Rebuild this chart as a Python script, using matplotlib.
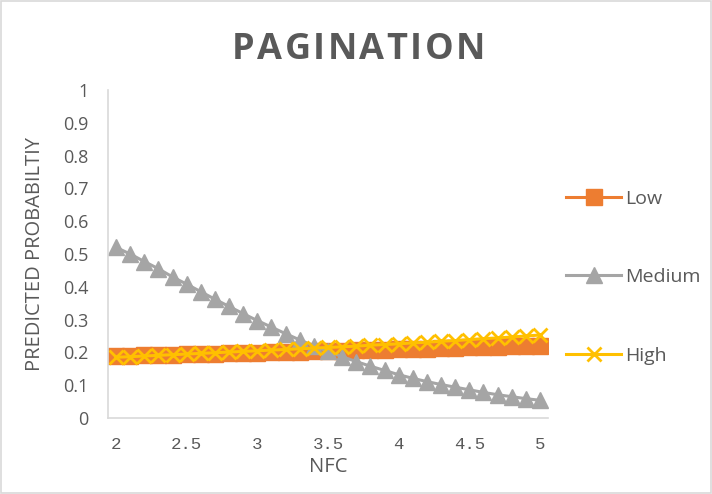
import numpy as np
import matplotlib.pyplot as plt
from matplotlib.patches import Rectangle

# NFC from 2 to 5 in steps of 0.1
nfc = np.round(np.arange(20, 51) / 10, 1)

low = [0.189, 0.190, 0.191, 0.192, 0.193, 0.194, 0.195, 0.196, 0.197, 0.198,
       0.199, 0.200, 0.201, 0.202, 0.203, 0.204, 0.205, 0.206, 0.207, 0.208,
       0.209, 0.210, 0.211, 0.213, 0.214, 0.215, 0.216, 0.217, 0.219, 0.220,
       0.221]
medium = [0.520, 0.500, 0.477, 0.455, 0.430, 0.408, 0.385, 0.362, 0.340, 0.318,
          0.297, 0.277, 0.257, 0.238, 0.220, 0.203, 0.187, 0.172, 0.158, 0.145,
          0.132, 0.121, 0.111, 0.102, 0.094, 0.086, 0.078, 0.071, 0.065, 0.059,
          0.054]
high = [0.185, 0.187, 0.189, 0.191, 0.193, 0.195, 0.197, 0.199, 0.201, 0.203,
        0.205, 0.207, 0.209, 0.211, 0.213, 0.215, 0.217, 0.219, 0.222, 0.224,
        0.226, 0.229, 0.231, 0.234, 0.236, 0.239, 0.242, 0.244, 0.247, 0.250,
        0.253]

xticks = [2, 2.5, 3, 3.5, 4, 4.5, 5]
xticklabels = ["2", "2.5", "3", "3.5", "4", "4.5", "5"]
yticks = np.round(np.arange(0, 11) / 10, 1)
yticklabels = ["0", "0.1", "0.2", "0.3", "0.4", "0.5", "0.6", "0.7", "0.8", "0.9", "1"]

txt = "#595959"
axc = "#D9D9D9"
plt.rcParams['font.family'] = ['Open Sans', 'DejaVu Sans']

fig = plt.figure(figsize=(7.12, 4.94), dpi=100)
ax = fig.add_axes([108/712, 1 - 418/494, 440/712, 328/494])

ax.plot(nfc, low, color="#ED7D31", lw=2.2, marker="s", ms=12, label="Low")
ax.plot(nfc, medium, color="#A5A5A5", lw=2.2, marker="^", ms=11, label="Medium")
ax.plot(nfc, high, color="#FFC000", lw=2.2, marker="x", ms=10, mew=2, label="High")

ax.set_xlim(1.943, 5.057)
ax.set_ylim(0, 1)
ax.set_xticks(xticks)
ax.set_xticklabels(xticklabels, family="Liberation Mono", fontsize=12.5, color=txt)
ax.set_yticks(yticks)
ax.set_yticklabels(yticklabels, fontsize=13, color=txt)
ax.tick_params(axis="x", length=0, pad=14)
ax.tick_params(axis="y", length=0, pad=14)

for side in ["top", "right"]:
    ax.spines[side].set_visible(False)
for side in ["left", "bottom"]:
    ax.spines[side].set_color(axc)
    ax.spines[side].set_linewidth(1.2)

fig.text(328/712, 1 - 467/494, "NFC", ha="center", va="center", fontsize=14.5, color=txt)
fig.text(35/712, 1 - 254/494, "PREDICTED PROBABILTIY", ha="center", va="center",
         rotation=90, fontsize=14.5, color=txt)

# title drawn letter by letter for the wide tracking
title = "PAGINATION"
t0 = fig.text(0, 0, title, fontsize=26, fontweight="bold")
fig.canvas.draw()
plain_w = t0.get_window_extent().width
t0.remove()
gap = (248 - plain_w) / (len(title) - 1)
xpos = 232
for ch in title:
    t = fig.text(xpos/712, 1 - 50/494, ch, ha="left", va="center",
                 fontsize=26, fontweight="bold", color=txt)
    xpos += t.get_window_extent(renderer=fig.canvas.get_renderer()).width + gap

leg = fig.legend(loc="upper left", bbox_to_anchor=(566/712, 1 - 190/494),
                 frameon=False, fontsize=14, labelspacing=3.1, handlelength=2.85,
                 handletextpad=0.2, borderpad=0, borderaxespad=0)
for t in leg.get_texts():
    t.set_color(txt)

fig.patches.append(Rectangle((0.002, 0.002), 0.996, 0.996, transform=fig.transFigure,
                             fill=False, edgecolor=axc, lw=1.2))

fig.savefig("out.png", dpi=100)
